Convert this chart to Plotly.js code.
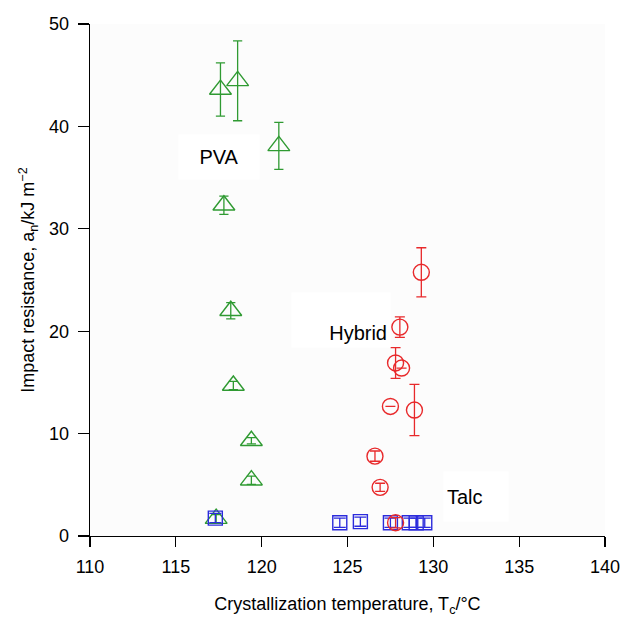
<!DOCTYPE html>
<html>
<head>
<meta charset="utf-8">
<script src="https://cdn.plot.ly/plotly-3.0.1.min.js"></script>
<style>
  html, body { margin: 0; padding: 0; background: #ffffff; }
  #chart { width: 622px; height: 618px; }
</style>
</head>
<body>
<div id="chart"></div>
<script>
// PVA-nucleated samples: crystallization temperature (°C), impact resistance (kJ/m²), error
const pvaTc  = [117.6, 118.6, 121.0, 117.8, 118.2, 118.35, 119.4, 119.4, 117.35];
const pvaAn  = [43.6, 44.45, 38.1, 32.3, 22.0, 14.7, 9.3, 5.45, 1.7];
const pvaErr = [2.6, 3.9, 2.3, 0.9, 0.8, 0.4, 0.3, 0.4, 0.4];

// Hybrid-nucleated samples (null: no error bar shown)
const hybTc  = [129.3, 128.05, 127.8, 128.15, 127.5, 128.9, 126.6, 126.9, 127.8];
const hybAn  = [25.75, 20.4, 16.9, 16.4, 12.65, 12.3, 7.8, 4.75, 1.3];
const hybErr = [2.4, 1.0, 1.5, null, null, 2.5, 0.5, 0.4, 0.5];

// Talc-nucleated samples
const talcTc  = [117.3, 124.55, 125.75, 127.5, 128.6, 129.0, 129.5];
const talcAn  = [1.75, 1.3, 1.4, 1.3, 1.3, 1.3, 1.3];
const talcErr = [0.45, 0.45, 0.45, 0.45, 0.45, 0.45, 0.45];

// Series names shown as in-plot labels
const seriesLabels = ['PVA', 'Hybrid', 'Talc'];
const xTicks = [110, 115, 120, 125, 130, 135, 140];
const yTicks = [0, 10, 20, 30, 40, 50];

const GREEN = '#2f9a32';
const RED = '#e8292b';
const BLUE = '#2b2bdc';
const FONT = 'Liberation Sans, Arial, sans-serif';

function series(x, y, err, symbol, size, color, capHalf) {
  return {
    type: 'scatter', mode: 'markers', x: x, y: y,
    marker: { symbol: symbol, size: size, color: 'rgba(255,255,255,0)',
              line: { color: color, width: 1.4 } },
    error_y: { type: 'data', array: err, visible: true,
               color: color, thickness: 1.3, width: capHalf },
    showlegend: false, hoverinfo: 'x+y'
  };
}

const data = [
  series(pvaTc, pvaAn, pvaErr, 'triangle-up', 19, GREEN, 4.6),
  series(talcTc, talcAn, talcErr, 'square', 14, BLUE, 6),
  series(hybTc, hybAn, hybErr, 'circle', 16, RED, 5)
];

// White label box; text aligned inside it
function boxLabel(text, x, y, w, h, align, valign) {
  return { text: text, x: x, y: y, xref: 'x', yref: 'y', showarrow: false,
           font: { family: FONT, size: 20, color: '#000' },
           bgcolor: '#ffffff', width: w, height: h, borderpad: 3,
           align: align, valign: valign };
}

const layout = {
  width: 622, height: 618,
  margin: { l: 90, r: 17, t: 24, b: 82 },
  paper_bgcolor: '#ffffff',
  plot_bgcolor: '#fcfcfc',
  font: { family: FONT, size: 18, color: '#000' },
  xaxis: {
    range: [110, 140], tickvals: xTicks, ticktext: xTicks.map(String),
    showgrid: false, zeroline: false, showline: true,
    linecolor: '#000', linewidth: 1.3,
    ticks: 'outside', ticklen: 10, tickwidth: 1.3, tickcolor: '#000',
    ticklabelstandoff: 4,
    tickfont: { family: FONT, size: 18, color: '#000' },
    title: { text: 'Crystallization temperature, T<sub>c</sub>/°C',
             font: { family: FONT, size: 18, color: '#000' }, standoff: 21 }
  },
  yaxis: {
    range: [0, 50], tickvals: yTicks, ticktext: yTicks.map(String),
    showgrid: false, zeroline: false, showline: true,
    linecolor: '#000', linewidth: 1.3,
    ticks: 'outside', ticklen: 11, tickwidth: 1.3, tickcolor: '#000',
    ticklabelstandoff: 5,
    tickfont: { family: FONT, size: 18, color: '#000' },
    title: { text: 'Impact resistance, a<sub>n</sub>/kJ m<sup>−2</sup>',
             font: { family: FONT, size: 18, color: '#000' }, standoff: 9 }
  },
  annotations: [
    boxLabel(seriesLabels[0], 117.5, 37.0, 74, 38, 'center', 'middle'),
    boxLabel(seriesLabels[1], 124.6, 21.1, 92, 48, 'right', 'bottom'),
    boxLabel(seriesLabels[2], 132.5, 3.9, 58, 43, 'left', 'middle')
  ]
};

Plotly.newPlot('chart', data, layout, { displayModeBar: false, staticPlot: true });
</script>
</body>
</html>
